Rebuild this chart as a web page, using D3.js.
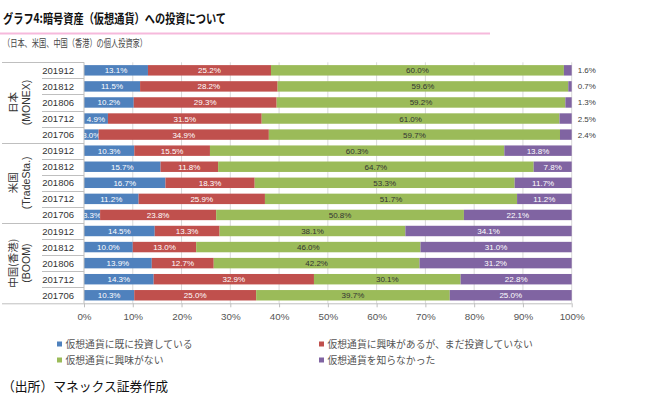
<!DOCTYPE html>
<html><head><meta charset="utf-8">
<script src="https://cdn.jsdelivr.net/npm/d3@7"></script>
<style>
body{margin:0;background:#fff;}
svg{display:block;}
</style></head>
<body><svg id="c" width="650" height="395"></svg>
<script>
const title = "グラフ4:暗号資産（仮想通貨）への投資について";
const subtitle = "（日本、米国、中国（香港）の個人投資家）";
const footer = "（出所）マネックス証券作成";
const groups = [
  {line1:"日本", line2:"(MONEX)"},
  {line1:"米国", line2:"(TradeSta.)"},
  {line1:"中国(香港)", line2:"(BOOM)"}
];
const periods = ["201912","201812","201806","201712","201706"];
const seriesNames = ["仮想通貨に既に投資している","仮想通貨に興味があるが、まだ投資していない","仮想通貨に興味がない","仮想通貨を知らなかった"];
const colors = ["#4F81BD","#C0504D","#9BBB59","#8064A2"];
// values per group, rows in order of periods
const invested   = [[13.1,11.5,10.2,4.9,3.0],[10.3,15.7,16.7,11.2,3.3],[14.5,10.0,13.9,14.3,10.3]];
const interested = [[25.2,28.2,29.3,31.5,34.9],[15.5,11.8,18.3,25.9,23.8],[13.3,13.0,12.7,32.9,25.0]];
const noInterest = [[60.0,59.6,59.2,61.0,59.7],[60.3,64.7,53.3,51.7,50.8],[38.1,46.0,42.2,30.1,39.7]];
const unaware    = [[1.6,0.7,1.3,2.5,2.4],[13.8,7.8,11.7,11.2,22.1],[34.1,31.0,31.2,22.8,25.0]];
const ticks = [0,10,20,30,40,50,60,70,80,90,100];

const svg = d3.select("#c");
const jp = "'Noto Sans CJK JP', sans-serif";
const lat = "'Liberation Sans', Arial, sans-serif";

// title
svg.append("text").attr("x",3).attr("y",23).attr("font-family",jp).attr("font-weight","bold")
  .attr("font-size",13).attr("fill","#111").attr("textLength",223).attr("lengthAdjust","spacingAndGlyphs").text(title);
svg.append("line").attr("x1",0).attr("x2",490).attr("y1",33.5).attr("y2",33.5).attr("stroke","#f6b9dc").attr("stroke-width",2);
svg.append("text").attr("x",3).attr("y",46.5).attr("font-family",jp).attr("font-size",10)
  .attr("fill","#444").attr("textLength",144).attr("lengthAdjust","spacingAndGlyphs").text(subtitle);

// rows
const rows = [];
groups.forEach((g,gi)=>periods.forEach((p,pi)=>{
  rows.push({key:gi+"-"+p, g:gi, period:p, vals:[invested[gi][pi],interested[gi][pi],noInterest[gi][pi],unaware[gi][pi]]});
}));

const x0 = 84, x1 = 571.7, yTop = 62.3, yBot = 303.3;
const x = d3.scaleLinear().domain([0,100]).range([x0,x1]);
const y = d3.scaleBand().domain(rows.map(r=>r.key)).range([yTop,yBot]).paddingInner(0.35).paddingOuter(0.175);

// gridlines
svg.append("g").selectAll("line").data(ticks.slice(1)).join("line")
  .attr("x1",d=>x(d)).attr("x2",d=>x(d)).attr("y1",yTop).attr("y2",yBot)
  .attr("stroke","#d9d9d9").attr("stroke-width",1);

// stacked bars (100% stacked)
const stackData = rows.map(r=>{ const o={key:r.key}; const s=d3.sum(r.vals); r.vals.forEach((v,i)=>o["s"+i]=v/s*100); return o;});
const stack = d3.stack().keys(["s0","s1","s2","s3"]);
const layers = stack(stackData);
const rowByKey = new Map(rows.map(r=>[r.key,r]));

layers.forEach((layer,li)=>{
  const g = svg.append("g");
  g.selectAll("rect").data(layer).join("rect")
    .attr("x",d=>x(d[0])).attr("width",d=>x(d[1])-x(d[0]))
    .attr("y",d=>y(d.data.key)).attr("height",y.bandwidth())
    .attr("fill",colors[li]);
  g.selectAll("text").data(layer).join("text")
    .attr("x",d=>{
      const v = rowByKey.get(d.data.key).vals[li];
      if(li===3 && v<5) return x(100)+6;
      return (x(d[0])+x(d[1]))/2;
    })
    .attr("text-anchor",d=>{const v=rowByKey.get(d.data.key).vals[li]; return (li===3&&v<5)?"start":"middle";})
    .attr("y",d=>y(d.data.key)+y.bandwidth()/2+3)
    .attr("font-family",lat).attr("font-size",8)
    .attr("fill",d=>{const v=rowByKey.get(d.data.key).vals[li]; if(li===3&&v<5) return "#404040"; return li===2?"#333":"#fff";})
    .text(d=>rowByKey.get(d.data.key).vals[li].toFixed(1)+"%");
});

// x axis
const xAxis = d3.axisBottom(x).tickValues(ticks).tickSize(4).tickFormat(d=>d+"%");
const ax = svg.append("g").attr("transform",`translate(0,${yBot})`).call(xAxis);
ax.select(".domain").remove();
ax.selectAll(".tick line").attr("stroke","#bfbfbf");
ax.selectAll(".tick text").attr("font-family",lat).attr("font-size",9.8).attr("fill","#555").attr("dy","0.95em");

// category axis lines
const axc = "#bfbfbf";
svg.append("line").attr("x1",x0).attr("x2",x0).attr("y1",yTop).attr("y2",yBot).attr("stroke",axc);
svg.append("line").attr("x1",2).attr("x2",x1).attr("y1",yBot+0.5).attr("y2",yBot+0.5).attr("stroke",axc);
// separators
rows.forEach((r,i)=>{
  const yy = y(r.key) - y.step()*y.paddingInner()/2;
  const isGroupStart = i%5===0;
  svg.append("line").attr("x1",isGroupStart?2:42).attr("x2",x0).attr("y1",Math.round(yy)+0.5).attr("y2",Math.round(yy)+0.5).attr("stroke",axc);
});
// period labels
svg.append("g").selectAll("text").data(rows).join("text")
  .attr("x",74).attr("y",d=>y(d.key)+y.bandwidth()/2+3.5)
  .attr("text-anchor","end").attr("font-family",lat).attr("font-size",9.5).attr("fill","#333")
  .text(d=>d.period);
// group labels
groups.forEach((g,gi)=>{
  const first = rows[gi*5].key, last = rows[gi*5+4].key;
  const cy = (y(first) + y(last) + y.bandwidth())/2;
  svg.append("text").attr("transform",`translate(17,${cy}) rotate(-90)`)
    .attr("text-anchor","middle").attr("font-family",jp).attr("font-size",10.5).attr("fill","#333").text(g.line1);
  svg.append("text").attr("transform",`translate(30,${cy}) rotate(-90)`)
    .attr("text-anchor","middle").attr("font-family",lat).attr("font-size",10.5).attr("fill","#333").text(g.line2);
});

// legend
const legPos = [[57,344],[319,344],[57,360],[319,360]];
seriesNames.forEach((n,i)=>{
  const [lx,ly] = legPos[i];
  svg.append("rect").attr("x",lx).attr("y",ly-2.5).attr("width",5).attr("height",5).attr("fill",colors[i]);
  svg.append("text").attr("x",lx+8.5).attr("y",ly+3.5).attr("font-family",jp).attr("font-size",9.8).attr("fill","#555").text(n);
});

// footer
svg.append("text").attr("x",2).attr("y",391).attr("font-family",jp).attr("font-size",13).attr("fill","#111")
  .attr("textLength",166).attr("lengthAdjust","spacingAndGlyphs").text(footer);
</script></body></html>
